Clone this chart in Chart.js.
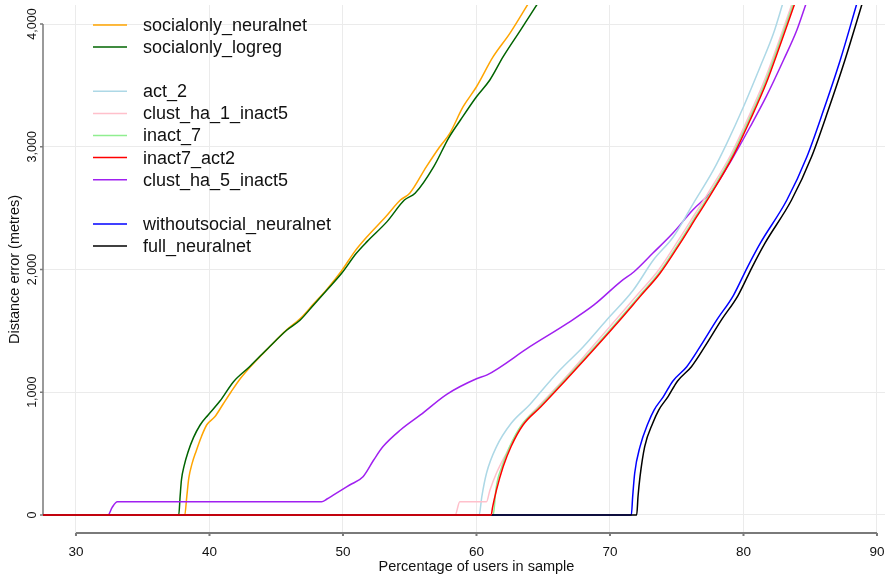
<!DOCTYPE html>
<html>
<head>
<meta charset="utf-8">
<script src="https://cdn.jsdelivr.net/npm/chart.js@4.4.0/dist/chart.umd.min.js"></script>
<style>
  html, body { margin: 0; padding: 0; background: #fff; }
  #wrap { width: 885px; height: 575px; }
</style>
</head>
<body>
<div id="wrap"><canvas id="chart" width="885" height="575"></canvas></div>
<script>
const FONT = '"Liberation Sans", Arial, sans-serif';

const xTicks = [30, 40, 50, 60, 70, 80, 90];
const yTicks = [0, 1000, 2000, 3000, 4000];

// [percentage of users, distance error]
const socialonlyNeuralnet = [[27, 0], [38.15, 0], [38.3, 150], [38.45, 300], [38.7, 420], [39.0, 520], [39.4, 640], [39.8, 735], [40.4, 800], [41.0, 900], [41.6, 1000], [42.3, 1110], [43.0, 1200], [44.5, 1370], [45.8, 1510], [46.8, 1600], [47.8, 1720], [48.8, 1840], [49.9, 1990], [50.9, 2150], [51.8, 2267], [53.2, 2430], [54.3, 2566], [55.0, 2621], [56.25, 2838], [57.25, 3000], [58.0, 3109], [59.0, 3326], [60.0, 3489], [61.25, 3734], [62.5, 3924], [63.9, 4170]];
const socialonlyLogreg = [[27, 0], [37.7, 0], [37.8, 150], [37.9, 285], [38.1, 400], [38.4, 515], [38.8, 630], [39.3, 733], [39.9, 815], [40.8, 930], [41.8, 1086], [43.0, 1208], [44.5, 1371], [45.8, 1507], [46.8, 1589], [47.8, 1711], [48.8, 1833], [49.9, 1969], [51.0, 2132], [51.8, 2227], [53.3, 2390], [54.6, 2566], [55.4, 2621], [56.8, 2838], [57.9, 3069], [58.8, 3218], [60.0, 3408], [61.0, 3544], [62.0, 3734], [63.3, 3951], [64.6, 4170]];
const act2 = [[27, 0], [60.2, 0], [60.4, 150], [60.75, 340], [61.5, 557], [62.6, 747], [64.0, 900], [64.5, 964], [66.25, 1181], [68.0, 1371], [69.75, 1589], [71.75, 1833], [73.25, 2077], [74.75, 2267], [76.25, 2539], [77.75, 2811], [78.75, 3028], [80.0, 3326], [81.25, 3652], [82.25, 3924], [82.95, 4170]];
const clustHa1Inact5 = [[27, 0], [58.4, 0], [58.75, 108], [60.75, 108], [61.0, 200], [61.5, 342], [62.25, 505], [63.3, 720], [64.6, 880], [66.5, 1100], [68.6, 1360], [70.6, 1610], [72.1, 1800], [73.6, 1990], [75.1, 2235], [76.35, 2450], [77.45, 2640], [79.05, 2935], [80.35, 3235], [81.55, 3535], [82.55, 3830], [83.65, 4170]];
const inact7 = [[27, 0], [61.25, 0], [61.35, 80], [61.45, 204], [61.9, 394], [62.5, 560], [63.4, 735], [64.7, 880], [65.2, 937], [66.6, 1100], [68.65, 1344], [70.65, 1589], [72.15, 1779], [73.65, 1969], [75.15, 2213], [76.4, 2430], [77.5, 2620], [79.1, 2919], [80.4, 3218], [81.6, 3517], [82.6, 3815], [83.75, 4170]];
const inact7Act2 = [[27, 0], [61.1, 0], [61.2, 60], [61.5, 204], [62.0, 394], [62.6, 560], [63.5, 735], [64.8, 880], [65.3, 937], [66.7, 1100], [68.75, 1344], [70.75, 1589], [72.25, 1779], [73.75, 1969], [75.25, 2213], [76.5, 2430], [77.6, 2620], [79.2, 2919], [80.5, 3218], [81.7, 3517], [82.7, 3815], [83.85, 4170]];
const clustHa5Inact5 = [[27, 0], [32.4, 0], [32.7, 60], [33.1, 108], [48.4, 108], [48.8, 130], [49.3, 163], [50.5, 244], [51.5, 312], [52.3, 448], [53.0, 557], [54.3, 692], [55.8, 815], [57.8, 985], [60.0, 1110], [60.8, 1141], [64.0, 1371], [66.8, 1561], [68.8, 1711], [70.8, 1901], [71.8, 1982], [73.2, 2132], [74.7, 2295], [76.2, 2485], [77.7, 2648], [79.1, 2892], [80.5, 3163], [81.7, 3408], [83.0, 3707], [84.0, 3951], [84.7, 4170]];
const withoutsocialNeuralnet = [[27, 0], [71.6, 0], [71.7, 150], [71.85, 340], [72.25, 557], [72.85, 747], [73.3, 855], [74.0, 964], [74.7, 1090], [75.75, 1208], [76.75, 1371], [78.0, 1589], [79.25, 1790], [80.3, 2020], [81.25, 2213], [83.25, 2566], [84.75, 2919], [86.0, 3299], [87.25, 3707], [88.5, 4170]];
const fullNeuralnet = [[27, 0], [72.0, 0], [72.1, 150], [72.25, 312], [72.6, 557], [73.2, 747], [73.65, 855], [74.35, 964], [75.05, 1090], [76.1, 1208], [77.1, 1371], [78.35, 1589], [79.6, 1790], [80.65, 2020], [81.6, 2213], [83.6, 2566], [85.1, 2919], [86.35, 3299], [87.6, 3707], [88.9, 4170]];

const seriesNames = ['socialonly_neuralnet', 'socialonly_logreg', 'act_2', 'clust_ha_1_inact5', 'inact_7', 'inact7_act2', 'clust_ha_5_inact5', 'withoutsocial_neuralnet', 'full_neuralnet'];
const seriesData = [socialonlyNeuralnet, socialonlyLogreg, act2, clustHa1Inact5, inact7, inact7Act2, clustHa5Inact5, withoutsocialNeuralnet, fullNeuralnet];
const seriesColors = ['#ffa500', '#006400', '#add8e6', '#ffc0cb', '#90ee90', '#ff0000', '#a020f0', '#0000ff', '#000000'];
// lower order = drawn on top (red zero line covers the others)
const drawOrder = [8, 7, 5, 4, 3, 0, 6, 2, 1];
// legend rows, null = blank row between groups
const legendRows = ['socialonly_neuralnet', 'socialonly_logreg', null, 'act_2', 'clust_ha_1_inact5', 'inact_7', 'inact7_act2', 'clust_ha_5_inact5', null, 'withoutsocial_neuralnet', 'full_neuralnet'];

const datasets = seriesNames.map((name, i) => ({
  label: name,
  data: seriesData[i].map(([x, y]) => ({ x, y })),
  borderColor: seriesColors[i],
  backgroundColor: seriesColors[i],
  borderWidth: 1.5,
  pointRadius: 0,
  cubicInterpolationMode: "monotone",
  fill: false,
  order: drawOrder[i],
}));

// Stata-like axis lines (only over the tick range), titles and an in-plot legend
const stataDecor = {
  id: "stataDecor",
  beforeDatasetsDraw(chart) {
    const { ctx, chartArea, scales } = chart;
    const x = scales.x, y = scales.y;
    ctx.save();
    ctx.strokeStyle = "#7a7a7a";
    // y axis line
    ctx.lineWidth = 1.5;
    ctx.beginPath();
    ctx.moveTo(chartArea.left, y.getPixelForValue(yTicks[0]));
    ctx.lineTo(chartArea.left, y.getPixelForValue(yTicks[yTicks.length - 1]));
    yTicks.forEach((v) => {
      const py = y.getPixelForValue(v);
      ctx.moveTo(chartArea.left - 3, py);
      ctx.lineTo(chartArea.left, py);
    });
    ctx.stroke();
    // x axis line
    ctx.lineWidth = 2;
    ctx.beginPath();
    ctx.moveTo(x.getPixelForValue(xTicks[0]), chartArea.bottom);
    ctx.lineTo(x.getPixelForValue(xTicks[xTicks.length - 1]), chartArea.bottom);
    xTicks.forEach((v) => {
      const px = x.getPixelForValue(v);
      ctx.moveTo(px, chartArea.bottom);
      ctx.lineTo(px, chartArea.bottom + 3);
    });
    ctx.stroke();
    ctx.restore();
  },
  afterDraw(chart) {
    const { ctx, scales } = chart;
    const x = scales.x, y = scales.y;
    ctx.save();
    ctx.fillStyle = "#111";
    ctx.font = "14.5px " + FONT;
    ctx.textAlign = "center";
    ctx.textBaseline = "middle";
    const midX = (x.getPixelForValue(xTicks[0]) + x.getPixelForValue(xTicks[xTicks.length - 1])) / 2;
    ctx.fillText("Percentage of users in sample", midX, 567);
    const midY = (y.getPixelForValue(yTicks[0]) + y.getPixelForValue(yTicks[yTicks.length - 1])) / 2;
    ctx.translate(15, midY);
    ctx.rotate(-Math.PI / 2);
    ctx.fillText("Distance error (metres)", 0, 0);
    ctx.restore();

    // legend
    ctx.save();
    ctx.font = "18px " + FONT;
    ctx.textAlign = "left";
    ctx.textBaseline = "middle";
    legendRows.forEach((name, row) => {
      if (!name) return;
      const ds = chart.data.datasets.find((d) => d.label === name);
      const ly = 25 + row * 22.1;
      ctx.strokeStyle = ds.borderColor;
      ctx.lineWidth = 1.5;
      ctx.beginPath();
      ctx.moveTo(93, ly);
      ctx.lineTo(127, ly);
      ctx.stroke();
      ctx.fillStyle = "#111";
      ctx.fillText(name, 143, ly + 1);
    });
    ctx.restore();
  },
};

new Chart(document.getElementById("chart"), {
  type: "line",
  data: { datasets },
  options: {
    responsive: false,
    animation: false,
    events: [],
    layout: { padding: { top: 5, right: 0, left: 0, bottom: 0 } },
    plugins: { legend: { display: false }, tooltip: { enabled: false } },
    scales: {
      x: {
        type: "linear",
        min: 27.53,
        max: 90.6,
        afterBuildTicks: (s) => { s.ticks = xTicks.map((v) => ({ value: v })); },
        afterFit: (s) => { s.height = 42; s.paddingLeft = 0; s.paddingRight = 0; },
        grid: { color: "#ebebeb", lineWidth: 1, drawTicks: false },
        border: { display: false },
        ticks: {
          padding: 11,
          color: "#111",
          font: { family: FONT, size: 13.5 },
          maxRotation: 0,
          callback: (v) => String(v),
        },
      },
      y: {
        type: "linear",
        min: -147,
        max: 4155,
        afterBuildTicks: (s) => { s.ticks = yTicks.map((v) => ({ value: v })); },
        afterFit: (s) => { s.width = 43; s.paddingTop = 0; s.paddingBottom = 0; },
        grid: { color: "#ebebeb", lineWidth: 1, drawTicks: false },
        border: { display: false },
        ticks: {
          padding: -5,
          color: "#111",
          font: { family: FONT, size: 12.5 },
          minRotation: 90,
          maxRotation: 90,
          crossAlign: "center",
          callback: (v) => v.toLocaleString("en-US"),
        },
      },
    },
  },
  plugins: [stataDecor],
});
</script>
</body>
</html>
